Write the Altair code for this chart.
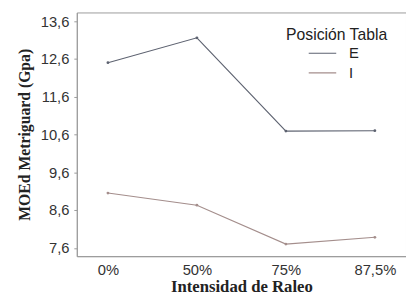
import altair as alt
import pandas as pd

categories = ["0%", "50%", "75%", "87,5%"]
series_E = [12.50, 13.16, 10.69, 10.70]
series_I = [9.05, 8.73, 7.70, 7.88]
y_ticks = [7.6, 8.6, 9.6, 10.6, 11.6, 12.6, 13.6]

rows = []
for c, v in zip(categories, series_E):
    rows.append({"Intensidad": c, "MOE": v, "Posición Tabla": "E"})
for c, v in zip(categories, series_I):
    rows.append({"Intensidad": c, "MOE": v, "Posición Tabla": "I"})
df = pd.DataFrame(rows)

chart = alt.Chart(df).mark_line(
    strokeWidth=1.1,
    point=alt.OverlayMarkDef(filled=True, size=8),
).encode(
    x=alt.X("Intensidad:N", sort=categories,
            scale=alt.Scale(type="point", padding=0.35),
            axis=alt.Axis(title="Intensidad de Raleo", labelAngle=0, ticks=False,
                          labelPadding=7, titlePadding=1, titleFontSize=17)),
    y=alt.Y("MOE:Q", scale=alt.Scale(domain=[7.38, 13.83], nice=False, zero=False),
            axis=alt.Axis(title="MOEd Metriguard (Gpa)", values=y_ticks,
                          labelExpr="replace(format(datum.value, '.1f'), '.', ',')",
                          tickSize=3, labelPadding=5, titlePadding=8, titleFontSize=16)),
    color=alt.Color("Posición Tabla:N",
                    scale=alt.Scale(domain=["E", "I"], range=["#5d6270", "#a48e8c"]),
                    legend=alt.Legend(orient="none", legendX=213, legendY=15,
                                      symbolType="stroke", symbolSize=784,
                                      symbolStrokeWidth=1.2, symbolOffset=22, labelOffset=12,
                                      clipHeight=15,
                                      titleFontSize=16, labelFontSize=15,
                                      titleFont="Liberation Sans", labelFont="Liberation Sans",
                                      titleFontWeight="normal", titleColor="#222",
                                      labelColor="#222", rowPadding=4, titlePadding=3)),
).properties(
    width=335, height=248,
    padding={"left": 8, "top": 2, "right": 0, "bottom": 0},
).configure_view(
    stroke="#9a9a9a", strokeWidth=1
).configure_axis(
    grid=False, domainColor="#9a9a9a", tickColor="#9a9a9a",
    labelFont="Liberation Sans", labelFontSize=15, labelColor="#333",
    titleFont="Liberation Serif", titleFontWeight="bold", titleColor="#222",
)

chart.save("out.html", embed_options={"renderer": "svg", "actions": False})
